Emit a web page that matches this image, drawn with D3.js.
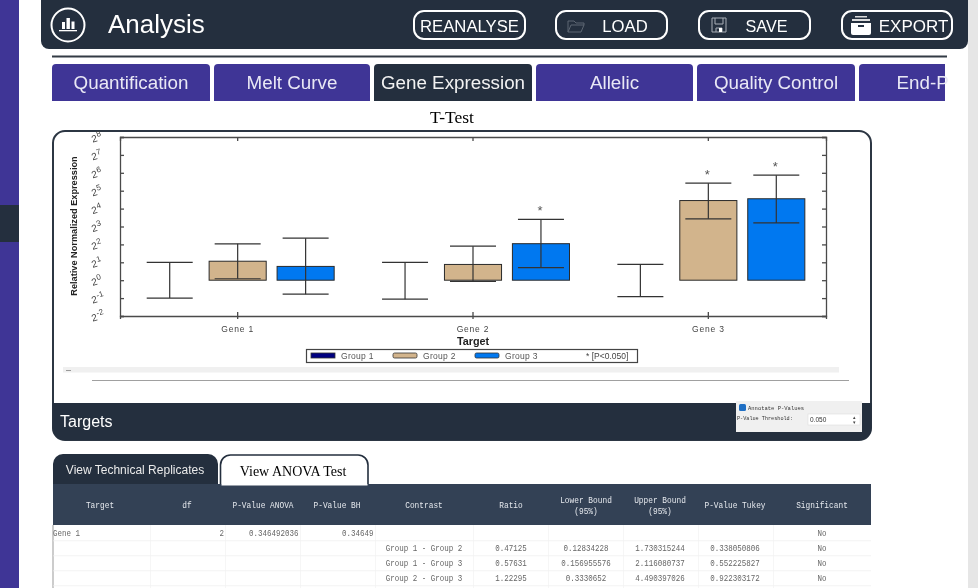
<!DOCTYPE html>
<html><head><meta charset="utf-8">
<script src="https://cdn.jsdelivr.net/npm/d3@7/dist/d3.min.js"></script>
<style>html,body{margin:0;padding:0;background:#fff;overflow:hidden}svg{display:block;filter:blur(0.3px)}</style>
</head><body><div id="c"></div>
<script>
// ---- chart data (log2 relative normalized expression) ----
const targets = ["Gene 1","Gene 2","Gene 3"];
const groups = ["Group 1","Group 2","Group 3"];
const groupColors = ["#000080","#d2b48c","#0078f0"];
const barGroup1 = [0,0,0];
const barGroup2 = [1.06,0.88,4.45];
const barGroup3 = [0.77,2.04,4.55];
const upperGroup1 = [1.0,1.0,0.88];
const upperGroup2 = [2.03,1.9,5.42];
const upperGroup3 = [2.35,3.4,5.87];
const lowerGroup1 = [-1.0,-1.06,-0.92];
const lowerGroup2 = [0.08,-0.07,3.43];
const lowerGroup3 = [-0.78,0.7,3.2];
const sigGroup1 = [0,0,0];
const sigGroup2 = [0,0,1];
const sigGroup3 = [0,1,1];
const yTicks = [-2,-1,0,1,2,3,4,5,6,7,8];
// ---- page text ----
const tabLabels = ["Quantification","Melt Curve","Gene Expression","Allelic","Quality Control","End-P"];
const buttonLabels = ["REANALYSE","LOAD","SAVE","EXPORT"];
const tableHeaders = [["Target"],["df"],["P-Value ANOVA"],["P-Value BH"],["Contrast"],["Ratio"],["Lower Bound","(95%)"],["Upper Bound","(95%)"],["P-Value Tukey"],["Significant"]];
const tableRows = [
 ["Gene 1","2","0.346492036","0.34649","","","","","","No"],
 ["","","","","Group 1 - Group 2","0.47125","0.12834228","1.730315244","0.338050806","No"],
 ["","","","","Group 1 - Group 3","0.57631","0.156955576","2.116080737","0.552225827","No"],
 ["","","","","Group 2 - Group 3","1.22295","0.3330652","4.490397026","0.922303172","No"]
];

const NAVY="#242f3e", PURPLE="#3f3596", HEAD="#334155";
const svg=d3.select("#c").append("svg").attr("width",978).attr("height",588).attr("viewBox","0 0 978 588");
const SANS="'Liberation Sans',Arial,sans-serif", SERIF="'Liberation Serif','Times New Roman',serif", MONO="'Liberation Mono',monospace";
function rect(p,x,y,w,h,fill,extra={}){const r=p.append("rect").attr("x",x).attr("y",y).attr("width",w).attr("height",h).attr("fill",fill);for(const k in extra)r.attr(k,extra[k]);return r;}
function text(p,x,y,t,size,fill,anchor="start",family=SANS,weight="normal"){return p.append("text").attr("x",x).attr("y",y).text(t).attr("font-size",size).attr("fill",fill).attr("text-anchor",anchor).attr("font-family",family).attr("font-weight",weight);}

// page chrome
rect(svg,0,0,19,588,PURPLE);
rect(svg,0,205,19,37,NAVY);
rect(svg,968,0,10,588,"#e6e6e6");

// header bar
svg.append("path").attr("d","M41 -10H968V41a8 8 0 0 1 -8 8H49a8 8 0 0 1 -8 -8Z").attr("fill",NAVY);
const logo=svg.append("g").attr("transform","translate(68,25)");
logo.append("circle").attr("r",16.5).attr("fill","none").attr("stroke","#fff").attr("stroke-width",2);
[[-6,-3,3,7],[-1.5,-7,3.4,11],[3.5,-3.5,3,7.5]].forEach(b=>rect(logo,b[0],b[1],b[2],b[3],"#fff"));
rect(logo,-9,5,18,1.3,"#fff");
text(svg,108,33,"Analysis",26,"#fff");

const btnX=[414,556,699,842], btnW=[111,111,111,110], btnTextX=[469.5,625,766.5,913.5], btnSize=[16.7,16.7,16.2,17];
buttonLabels.forEach((b,i)=>{
 rect(svg,btnX[i],11,btnW[i],28,"none",{stroke:"#fff","stroke-width":2,rx:10});
 text(svg,btnTextX[i],31.5,b,btnSize[i],"#fff","middle");
});
// folder icon
svg.append("path").attr("d","M568 32V21h6l2 2h8v2M568 32l3 -7h13l-3 7Z").attr("fill","none").attr("stroke","#5d6672").attr("stroke-width",1);
// floppy icon
svg.append("path").attr("d","M712 18h14v14h-14ZM715 18v6h8v-6M716 32v-4h6v4").attr("fill","none").attr("stroke","#aab0b8").attr("stroke-width",1);
rect(svg,719,28,3,4,"#fff");
// export box icon
const ex=svg.append("g");
rect(ex,855,16,12,1.5,"#ddd");rect(ex,852,19,18,2,"#ddd");
svg.append("path").attr("d","M851 23h20v10a2 2 0 0 1 -2 2h-16a2 2 0 0 1 -2 -2Z").attr("fill","#fff");
rect(svg,858,25,6,2,NAVY);

rect(svg,52,55.5,895,2,"#333b45");

// tabs
const tabX=[52,214,374,536,697,859], tabW=[158,156,158,157,158,160];
const tabsClip=svg.append("clipPath").attr("id","tc");rect(tabsClip,0,60,945,45,"#000");
const tabs=svg.append("g").attr("clip-path","url(#tc)");
tabLabels.forEach((t,i)=>{
 const x=tabX[i],w=tabW[i],f=i===2?NAVY:PURPLE;
 tabs.append("path").attr("d",`M${x} 101V68a4 4 0 0 1 4 -4H${x+w-4}a4 4 0 0 1 4 4V101Z`).attr("fill",f);
});
tabLabels.forEach((t,i)=>{
 const x=tabX[i],w=tabW[i];
 text(svg,i===5?896.5:x+w/2,88.5,t,18.8,i===2?"#f2f2f2":"#e9e8f5",i===5?"start":"middle");
});
text(svg,452,122.5,"T-Test",17.5,"#000","middle",SERIF);

// chart panel
svg.append("path").attr("d","M53 428V143a12 12 0 0 1 12 -12H859a12 12 0 0 1 12 12V428a12 12 0 0 1 -12 12H65a12 12 0 0 1 -12 -12Z").attr("fill","#fff").attr("stroke","#2c3643").attr("stroke-width",2);
svg.append("path").attr("d","M52.5 403H871.5V428a12 12 0 0 1 -12 12H65a12 12 0 0 1 -12.5 -12Z").attr("fill",NAVY);
text(svg,60,427,"Targets",16,"#fff");

// plot
const M={l:120,r:826,t:137,b:316};
const yScale=d3.scaleLinear().domain([-2,8]).range([M.b,M.t]);
const x0=d3.scaleBand().domain(targets).range([M.l,M.r]);
const x1=d3.scaleBand().domain(groups).range([-96.5,96.5]).paddingInner(0.16);
const plot=svg.append("g");
const rows=targets.map((t,i)=>[
 {t,g:groups[0],c:groupColors[0],v:barGroup1[i],u:upperGroup1[i],l:lowerGroup1[i],s:sigGroup1[i]},
 {t,g:groups[1],c:groupColors[1],v:barGroup2[i],u:upperGroup2[i],l:lowerGroup2[i],s:sigGroup2[i]},
 {t,g:groups[2],c:groupColors[2],v:barGroup3[i],u:upperGroup3[i],l:lowerGroup3[i],s:sigGroup3[i]}
]).flat();
const cx=d=>x0(d.t)+x0.bandwidth()/2+x1(d.g)+x1.bandwidth()/2;
plot.selectAll("rect.bar").data(rows.filter(d=>d.v!==0)).join("rect").attr("class","bar")
 .attr("x",d=>cx(d)-x1.bandwidth()/2).attr("width",x1.bandwidth())
 .attr("y",d=>yScale(d.v)).attr("height",d=>yScale(0)-yScale(d.v))
 .attr("fill",d=>d.c).attr("stroke","#2a2a2a").attr("stroke-width",1);
const eb=plot.selectAll("g.eb").data(rows).join("g").attr("class","eb").attr("stroke","#333").attr("stroke-width",1.2);
eb.append("line").attr("x1",cx).attr("x2",cx).attr("y1",d=>yScale(d.u)).attr("y2",d=>yScale(d.l));
eb.append("line").attr("x1",d=>cx(d)-23).attr("x2",d=>cx(d)+23).attr("y1",d=>yScale(d.u)).attr("y2",d=>yScale(d.u));
eb.append("line").attr("x1",d=>cx(d)-23).attr("x2",d=>cx(d)+23).attr("y1",d=>yScale(d.l)).attr("y2",d=>yScale(d.l));
plot.selectAll("text.star").data(rows.filter(d=>d.s)).join("text").attr("class","star").text("*")
 .attr("x",d=>cx(d)-1).attr("y",d=>yScale(d.u)-4.5).attr("text-anchor","middle").attr("font-family",SANS).attr("font-size",13).attr("fill","#555");

// axes through d3
const tickFmt=()=>"";
const axL=d3.axisLeft(yScale).tickValues(yTicks).tickSize(-4).tickFormat(tickFmt);
const axR=d3.axisRight(yScale).tickValues(yTicks).tickSize(-4).tickFormat(tickFmt);
const axT=d3.axisTop(x0).tickSize(-4).tickFormat(tickFmt);
const axB=d3.axisBottom(x0).tickSize(3).tickFormat(d=>d);
const ga=[
 plot.append("g").attr("transform",`translate(${M.l},0)`).call(axL),
 plot.append("g").attr("transform",`translate(${M.r},0)`).call(axR),
 plot.append("g").attr("transform",`translate(0,${M.t})`).call(axT),
 plot.append("g").attr("transform",`translate(0,${M.b})`).call(axB)
];
ga.forEach(g=>{g.selectAll("path,line").attr("stroke","#4a4a4a").attr("stroke-width",1.3);});
ga[3].selectAll("text").attr("font-size",8.5).attr("font-family",SANS).attr("fill","#444").attr("y",10).attr("letter-spacing",0.8);
ga[3].selectAll(".tick").append("line").attr("y1",-4).attr("y2",0).attr("stroke","#4a4a4a").attr("stroke-width",1.3);
// y tick labels 2^n, tilted like the source
const yl=plot.selectAll("g.yl").data(yTicks).join("g").attr("class","yl").attr("transform",d=>`translate(98,${yScale(d)+4}) rotate(-18)`);
yl.append("text").text("2").attr("text-anchor","end").attr("font-size",10).attr("font-family",SANS).attr("fill","#444").attr("x",0);
yl.append("text").text(d=>d).attr("font-size",8).attr("font-family",SANS).attr("fill","#444").attr("x",0.5).attr("y",-4);
text(plot,0,0,"Relative Normalized Expression",9.2,"#222","middle",SANS,"bold").attr("transform","translate(77,226) rotate(-90)");
text(plot,473,344.5,"Target",10.8,"#222","middle",SANS,"bold");

// legend
rect(plot,306.5,349.5,331,13,"#fff",{stroke:"#444","stroke-width":1.2});
const legX=d3.scaleOrdinal().domain(groups).range([311,393,475]);
const leg=plot.selectAll("g.leg").data(groups).join("g").attr("class","leg").attr("transform",d=>`translate(${legX(d)},0)`);
leg.append("rect").attr("y",353).attr("width",24).attr("height",5).attr("fill",(d,i)=>groupColors[i]).attr("stroke","#333").attr("stroke-width",0.8).attr("rx",(d,i)=>i>=1?1.5:0);
leg.append("text").text(d=>d).attr("x",30).attr("y",359).attr("font-size",8.5).attr("font-family",SANS).attr("fill","#555").attr("letter-spacing",0.3);
text(plot,586,359,"* [P<0.050]",8.5,"#444","start",SANS);

// strip and divider below the plot
rect(svg,63,367,776,5.5,"#f0f0f0");
rect(svg,66,370,5,1,"#999");
rect(svg,92,380,757,1,"#a0a0a0");

// threshold widget
rect(svg,736,401,126,31,"#f0f0f0");
rect(svg,739,404,7,7,"#1f6fc4",{rx:1.5});
function mono(p,cxx,yy,t,size,fill,anchor,ch){const e=text(p,cxx,yy,t,size,fill,anchor,MONO);e.attr("textLength",t.length*ch).attr("lengthAdjust","spacingAndGlyphs");return e;}
mono(svg,748,410,"Annotate P-Values",6.2,"#333","start",3.3);
mono(svg,737,420,"P-Value Threshold:",6.2,"#333","start",3.1);
rect(svg,808,414,52,11,"#fff",{stroke:"#ddd","stroke-width":0.6});
text(svg,810,421.5,"0.050",6.5,"#333","start",SANS);
text(svg,854,418.5,"▴",5,"#444","middle",SANS);text(svg,854,423.5,"▾",5,"#444","middle",SANS);

// lower tabs
svg.append("path").attr("d","M53 485V464a10 10 0 0 1 10 -10H208a10 10 0 0 1 10 10V485Z").attr("fill",NAVY);
text(svg,135,473.5,"View Technical Replicates",12,"#eaeaea","middle");
svg.append("path").attr("d","M220.5 485V465a10 10 0 0 1 10 -10H358a10 10 0 0 1 10 10V485Z").attr("fill","#fff").attr("stroke",NAVY).attr("stroke-width",1.6);
text(svg,293,476,"View ANOVA Test",14,"#000","middle",SERIF);

// table
const colEdges=[53,150,225,300,375,473,548,623,698,773,871];
const headCx=[100,187,263,337,424,511,586,660,735,822];
rect(svg,53,484,818,41,HEAD);
rect(svg,221.5,484,146,1.5,"#fff");
tableHeaders.forEach((h,i)=>{
 h.forEach((line,k)=>mono(svg,headCx[i],(h.length===2?502.5+k*11:508),line,9.4,"#e6e9ee","middle",4.7));
});
rect(svg,52.5,525,1,63,"#999");
const rowY=[533,548,563,578], lineY=[540.5,555.5,570.5,585.5];
lineY.forEach(v=>rect(svg,53,v,818,0.7,"#eeeeee"));
colEdges.slice(1,-1).forEach(v=>rect(svg,v,525,0.7,63,"#f3f3f3"));
tableRows.forEach((r,ri)=>r.forEach((c,ci)=>{
 if(!c)return;
 const anchor=ci===0?"start":(ci===1||ci===2||ci===3)?"end":"middle";
 const px=ci===0?53:ci===1?224:ci===2?298.5:ci===3?373.5:headCx[ci];
 mono(svg,px,rowY[ri]+3,c,9.4,"#666",anchor,4.5);
}));
</script></body></html>
